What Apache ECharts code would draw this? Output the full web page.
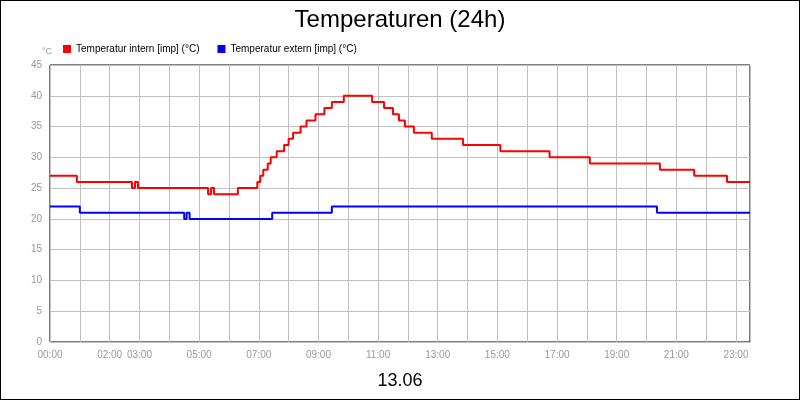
<!DOCTYPE html>
<html><head><meta charset="utf-8">
<script src="https://cdn.jsdelivr.net/npm/echarts@6/dist/echarts.min.js"></script>
<style>html,body{margin:0;padding:0;background:#fff}#c{width:798px;height:398px;border:1px solid #000}</style>
</head><body><div id="c"></div>
<script>
const hourLabels = {0:'00:00',2:'02:00',3:'03:00',5:'05:00',7:'07:00',9:'09:00',11:'11:00',13:'13:00',15:'15:00',17:'17:00',19:'19:00',21:'21:00',23:'23:00'};
const intern = [[0,27],[0.9,26],[2.75,25],[2.85,26],[2.95,25],[5.3,24],[5.4,25],[5.5,24],[6.3,25],[6.95,26],[7.05,27],[7.15,28],[7.3,29],[7.4,30],[7.6,31],[7.85,32],[8.0,33],[8.15,34],[8.4,35],[8.6,36],[8.9,37],[9.2,38],[9.45,39],[9.85,40],[10.8,39],[11.2,38],[11.5,37],[11.7,36],[11.9,35],[12.2,34],[12.8,33],[13.85,32],[15.1,31],[16.75,30],[18.1,29],[20.45,28],[21.6,27],[22.7,26],[23.47,26]];
const extern = [[0,22],[1.0,21],[4.5,20],[4.58,21],[4.68,20],[7.45,21],[9.45,22],[20.35,21],[23.47,21]];
const chart = echarts.init(document.getElementById('c'));
chart.setOption({
  animation:false,
  title:[{text:'Temperaturen (24h)',left:'center',top:2,textStyle:{fontSize:24,fontWeight:'normal',color:'#000',fontFamily:'Liberation Sans'}},
         {text:'13.06',left:'center',top:366,textStyle:{fontSize:18,fontWeight:'normal',color:'#000',fontFamily:'Liberation Sans'}},
         {text:'°C',left:36,top:41,textStyle:{fontSize:9,fontWeight:'normal',color:'#999'}}],
  legend:{left:57,top:38,itemWidth:8,itemHeight:8,itemGap:18,icon:'rect',textStyle:{fontSize:10,color:'#000',fontFamily:'Liberation Sans'},
    data:['Temperatur intern [imp] (°C)','Temperatur extern [imp] (°C)']},
  grid:{left:49,right:49,top:64,bottom:57,show:true,borderColor:'#000',borderWidth:1},
  xAxis:{type:'value',min:0,max:23.47,interval:1,
    axisLine:{show:false},axisTick:{show:false},
    splitLine:{show:true,lineStyle:{color:'#c0c0c0'}},
    axisLabel:{fontSize:10,color:'#999',showMaxLabel:false,formatter:v=>hourLabels[v]||''}},
  yAxis:{type:'value',min:0,max:45,interval:5,
    axisLine:{show:false},axisTick:{show:false},
    splitLine:{show:true,lineStyle:{color:'#c0c0c0'}},
    axisLabel:{fontSize:10,color:'#999'}},
  series:[
    {name:'Temperatur intern [imp] (°C)',type:'line',step:'end',data:intern,showSymbol:false,itemStyle:{color:'#ff0000'},lineStyle:{width:2,color:'#ff0000'}},
    {name:'Temperatur extern [imp] (°C)',type:'line',step:'end',data:extern,showSymbol:false,itemStyle:{color:'#0000ff'},lineStyle:{width:2,color:'#0000ff'}}
  ]
});
</script></body></html>
